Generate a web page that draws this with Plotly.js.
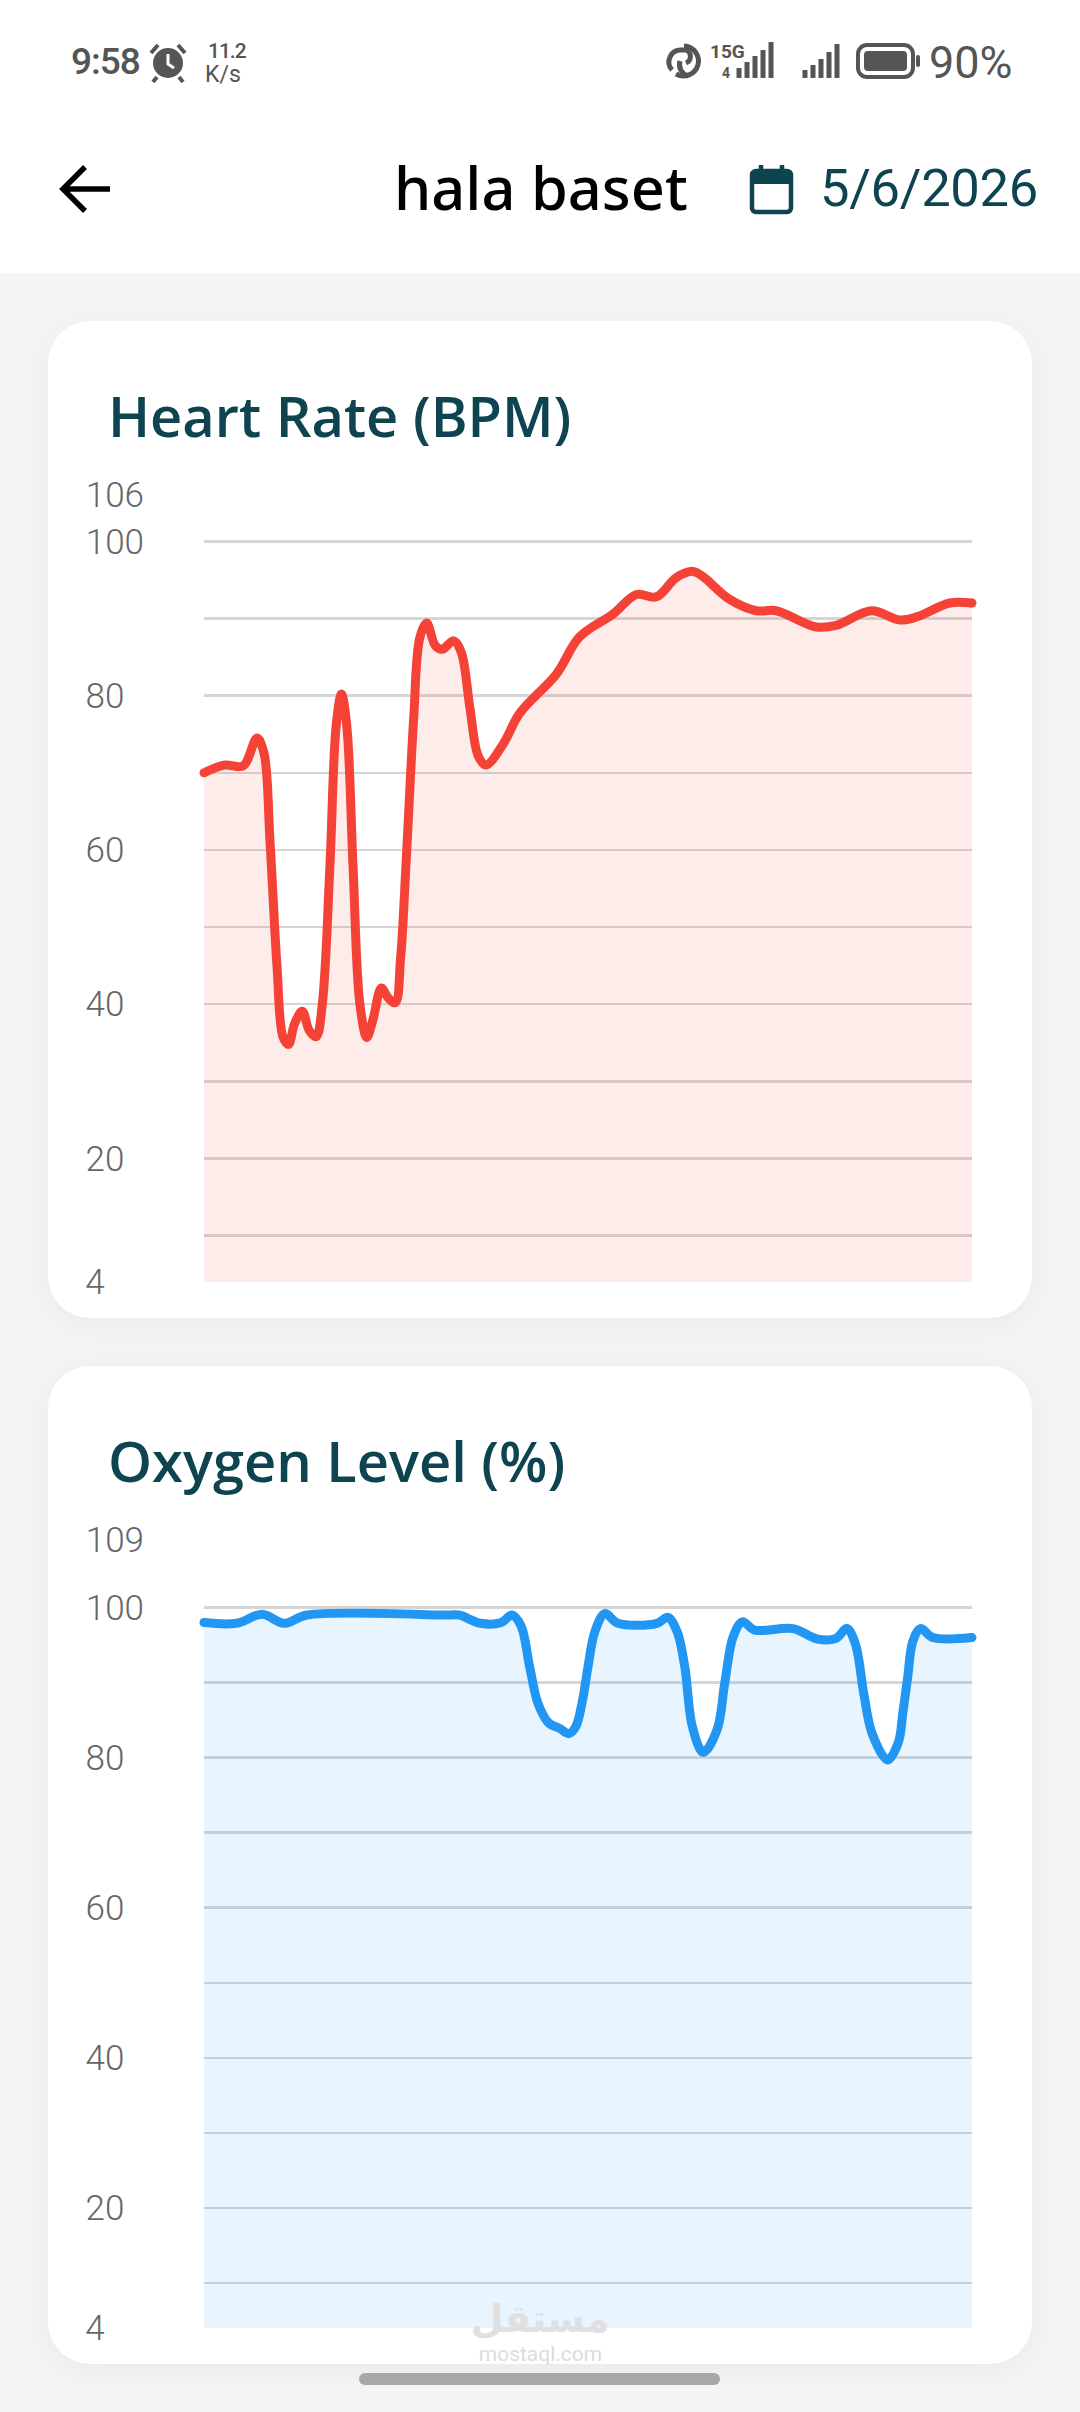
<!DOCTYPE html>
<html>
<head>
<meta charset="utf-8">
<script src="https://cdn.plot.ly/plotly-3.0.1.min.js"></script>
<style>
html,body{margin:0;padding:0;background:#f5f5f5;width:1080px;height:2412px;overflow:hidden;font-family:Roboto,sans-serif}
.abs{position:absolute;white-space:nowrap;line-height:1}
#head{position:absolute;left:0;top:0;width:1080px;height:273px;background:#fff}
.card{position:absolute;left:48px;width:984px;background:#fff;border-radius:42px;box-shadow:0 6px 36px rgba(0,0,0,.055)}
.chart{position:absolute;left:0;top:0;width:984px;height:100%}
</style>
</head>
<body>
<div id="head"></div>
<div class="abs" style="left:71px;top:43px;font-size:37px;font-weight:500;color:#555;letter-spacing:-1px">9:58</div>
<svg class="abs" style="left:148px;top:41px" width="40" height="42" viewBox="0 0 40 42"><circle cx="20" cy="22" r="15" fill="#555"/><path d="M20 13v10l6 4" stroke="#fff" stroke-width="3" fill="none"/><path d="M3 12L10 4M37 12L30 4M9 36l-4 5M31 36l4 5" stroke="#555" stroke-width="4"/></svg>
<div class="abs" style="left:208px;top:41px;font-size:21px;color:#555;font-weight:500;letter-spacing:-1px">11.2</div>
<div class="abs" style="left:205px;top:63px;font-size:23px;color:#555">K/s</div>
<svg class="abs" style="left:664px;top:36px" width="350" height="50" viewBox="0 -4 350 50">
<g fill="none" stroke="#555" stroke-width="5"><path d="M20 6a15 15 0 1 1-8 28"/><path d="M8 30a12 12 0 0 1 8-20h6a7 7 0 0 1 0 13"/><path d="M24 36a12 12 0 0 1-8-15"/></g>
<text x="46" y="18" font-size="19" font-weight="700" fill="#555" font-family="Roboto">15G</text>
<text x="58" y="38" font-size="14" font-weight="700" fill="#555" font-family="Roboto">4</text>
<path d="M75 28v10M83 22v16M91 16v22M99 10v28M107 2v36" stroke="#555" stroke-width="5"/>
<path d="M141 30v8M149 25v13M157 19v19M165 12v26M173 4v34" stroke="#555" stroke-width="5"/>
<rect x="194" y="5" width="55" height="32" rx="9" fill="none" stroke="#555" stroke-width="4"/><rect x="200" y="11" width="43" height="20" rx="4" fill="#555"/><rect x="252" y="15" width="4" height="12" rx="2" fill="#555"/>
</svg>
<div class="abs" style="left:929px;top:40px;font-size:45px;color:#555">90%</div>
<svg class="abs" style="left:58px;top:164px" width="54" height="50" viewBox="0 0 54 50"><path d="M52 25H5M27 3L5 25l22 22" fill="none" stroke="#000" stroke-width="5.5"/></svg>
<div class="abs" style="left:394px;top:157px;font-size:59.5px;font-weight:500;color:#000;font-family:'Noto Sans'">hala baset</div>
<svg class="abs" style="left:748px;top:163px" width="48" height="52" viewBox="0 0 48 52"><rect x="4" y="8" width="39" height="41" rx="4" fill="none" stroke="#0d4450" stroke-width="4.5"/><rect x="4" y="8" width="39" height="13" fill="#0d4450"/><path d="M13 2v8M34 2v8" stroke="#0d4450" stroke-width="4.5"/></svg>
<div class="abs" style="left:820px;top:162px;font-size:52.5px;color:#0d4450;letter-spacing:-.3px">5/6/2026</div>

<div class="card" style="top:321px;height:997px"><div id="hr" class="chart"></div></div>
<div class="card" style="top:1366px;height:998px"><div id="o2" class="chart"></div></div>

<div class="abs" style="left:440px;top:2300px;font-size:38px;font-weight:700;color:#e0e0e0;font-family:'DejaVu Sans';direction:rtl;width:200px;text-align:center">مستقل</div>
<div class="abs" style="left:475px;top:2344px;font-size:21px;color:#dcdcdc;width:131px;text-align:center">mostaql.com</div>
<div class="abs" style="left:359px;top:2373px;width:361px;height:12px;border-radius:6px;background:#a8a8a8"></div>

<script>
var hrX = [0,2.7,5.1,6.9,7.8,8.6,9.5,10.3,11,11.8,12.8,13.7,14.6,15.4,16.4,17.2,17.9,18.6,19.4,20.3,21.2,22,23.1,24,24.9,25.6,26.4,27.3,28.1,29,30.1,31,32.5,33.5,34.6,35.7,36.7,39,41.1,45.9,48.9,53.3,56.3,58.9,61.5,63.7,65,68.4,71.9,74.5,79.7,82.3,86.9,90.6,92.8,97.1,100];
var hrY = [70,71,70.9,74.5,72.6,61,45,35.7,34.8,37.5,39.1,36.6,35.8,40,58,76,80.2,76,58,40,35.7,38,42.1,40.8,40.2,46,60,77,87.5,89.4,86.5,86,87.1,85.6,78.6,72.2,71,73.8,77.7,82.8,87.6,90.6,93.1,92.8,95.3,96.1,95.4,92.5,91,91,88.9,89.1,91,89.8,90.2,92,92];
var o2X = [0,4.2,7.6,10.4,13.4,31.8,33.2,36,38.7,40.1,41.3,42.4,43.5,44.9,46.3,47.5,48.4,49.3,50,50.9,52.2,53.9,59,60.4,61.6,62.6,63.6,65,66.8,67.8,68.9,70.1,71.7,76.7,79.9,82.3,83.7,84.8,85.9,87,89,90.4,91,91.6,92.3,93.3,94.9,100];
var o2Y = [98,97.9,99.1,97.9,99,99,99,97.9,98,99,97.5,92.1,87.2,84.6,83.9,83.2,84.1,87.7,92.1,96.8,99.2,97.9,97.9,98.7,96.8,92.1,84.1,80.7,83.7,89.9,96.1,98.1,97,97.2,95.8,95.9,97.2,95.2,88.6,83.2,79.7,82,86,90.5,95.5,97.2,96,96];
var hrTicks = [4,20,40,60,80,100,106];
var o2Ticks = [4,20,40,60,80,100,109];
var hrTitle = 'Heart Rate (BPM)';
var o2Title = 'Oxygen Level (%)';

function label(v){
  var s = String(v), pad = '';
  for (var i = s.length; i < 3; i++) pad += '\u2007';
  return s + pad;
}
function draw(id, x, y, ticks, title, color, fill, mt, mb){
  var h = document.getElementById(id).parentNode.offsetHeight;
  var ends = [0, x.length - 1];
  var traces = [
    {x:x, y:y, type:'scatter', mode:'lines', fill:'tozeroy', fillcolor:fill,
     line:{shape:'spline', smoothing:1, width:0}, hoverinfo:'skip', showlegend:false},
    {x:x, y:y, type:'scatter', mode:'lines', cliponaxis:false,
     line:{shape:'spline', smoothing:1, width:9, color:color}, showlegend:false},
    {x:ends.map(function(i){return x[i];}), y:ends.map(function(i){return y[i];}), type:'scatter', mode:'markers', cliponaxis:false,
     marker:{size:9, color:color, line:{width:0}}, hoverinfo:'skip', showlegend:false}
  ];
  var layout = {
    width:984, height:h,
    margin:{l:156, r:60, t:mt, b:mb, pad:0},
    paper_bgcolor:'rgba(0,0,0,0)', plot_bgcolor:'rgba(0,0,0,0)',
    title:{text:title, x:60/984, xanchor:'left', xref:'container', y:1-(96/h), yanchor:'middle', yref:'container',
           font:{family:'"Open Sans", sans-serif', size:56, weight:600, color:'#0d4450'}},
    xaxis:{range:[0,100], visible:false, fixedrange:true},
    yaxis:{range:[ticks[0], ticks[ticks.length-1]], tickmode:'array', tickvals:ticks, ticktext:ticks.map(label),
           showgrid:false, zeroline:false, showline:false, ticks:'', ticklabelstandoff:59,
           tickfont:{family:'Roboto, sans-serif', size:35, weight:300, color:'#666'},
           minor:{tick0:0, dtick:10, showgrid:true, gridcolor:'#d6d6d6', gridwidth:2.5, ticks:''}, fixedrange:true},
    showlegend:false
  };
  Plotly.newPlot(id, traces, layout, {displayModeBar:false, staticPlot:true});
}
draw('hr', hrX, hrY, hrTicks, hrTitle, '#f44336', 'rgba(244,67,54,0.10)', 174, 36);
draw('o2', o2X, o2Y, o2Ticks, o2Title, '#2196f3', 'rgba(33,150,243,0.10)', 174, 36);
</script>
</body>
</html>
